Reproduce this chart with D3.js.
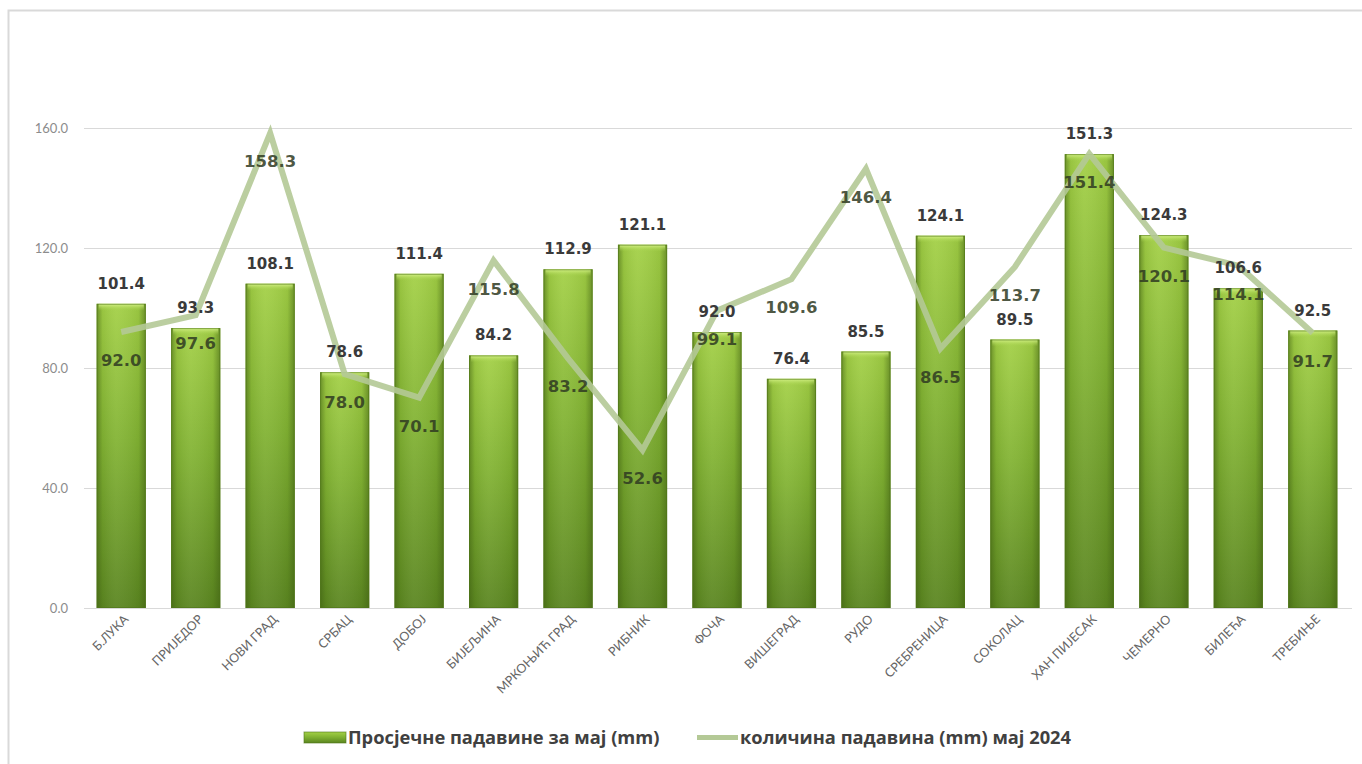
<!DOCTYPE html>
<html>
<head>
<meta charset="utf-8">
<script src="https://cdn.jsdelivr.net/npm/d3@7"></script>
<style>
  html, body { margin: 0; padding: 0; background: #fff; }
  svg { display: block; }
</style>
</head>
<body>
<svg id="chart" width="1362" height="764"></svg>
<script>
const categories = ["Б.ЛУКА", "ПРИЈЕДОР", "НОВИ ГРАД", "СРБАЦ", "ДОБОЈ", "БИЈЕЉИНА", "МРКОЊИЋ ГРАД", "РИБНИК", "ФОЧА", "ВИШЕГРАД", "РУДО", "СРЕБРЕНИЦА", "СОКОЛАЦ", "ХАН ПИЈЕСАК", "ЧЕМЕРНО", "БИЛЕЋА", "ТРЕБИЊЕ"];
const avgMay = [101.4, 93.3, 108.1, 78.6, 111.4, 84.2, 112.9, 121.1, 92.0, 76.4, 85.5, 124.1, 89.5, 151.3, 124.3, 106.6, 92.5];
const may2024 = [92.0, 97.6, 158.3, 78.0, 70.1, 115.8, 83.2, 52.6, 99.1, 109.6, 146.4, 86.5, 113.7, 151.4, 120.1, 114.1, 91.7];
const yTicks = [0, 40, 80, 120, 160];
const seriesNames = ["Просјечне падавине за мај (mm)", "количина падавина (mm) мај 2024"];

const svg = d3.select("#chart");
const defs = svg.append("defs");

// bar gradients
const gv = defs.append("linearGradient").attr("id", "barV").attr("x1", 0).attr("y1", 0).attr("x2", 0).attr("y2", 1);
gv.append("stop").attr("offset", "0%").attr("stop-color", "#a3d046");
gv.append("stop").attr("offset", "45%").attr("stop-color", "#82b333");
gv.append("stop").attr("offset", "100%").attr("stop-color", "#5a8520");
const gh = defs.append("linearGradient").attr("id", "barH").attr("x1", 0).attr("y1", 0).attr("x2", 1).attr("y2", 0);
gh.append("stop").attr("offset", "0%").attr("stop-color", "#3d5c12").attr("stop-opacity", 0.55);
gh.append("stop").attr("offset", "12%").attr("stop-color", "#3d5c12").attr("stop-opacity", 0.1);
gh.append("stop").attr("offset", "40%").attr("stop-color", "#ffffff").attr("stop-opacity", 0.06);
gh.append("stop").attr("offset", "85%").attr("stop-color", "#3d5c12").attr("stop-opacity", 0.1);
gh.append("stop").attr("offset", "100%").attr("stop-color", "#3d5c12").attr("stop-opacity", 0.55);
const gt = defs.append("linearGradient").attr("id", "barTop").attr("x1", 0).attr("y1", 0).attr("x2", 0).attr("y2", 1);
gt.append("stop").attr("offset", "0%").attr("stop-color", "#d6f28a");
gt.append("stop").attr("offset", "100%").attr("stop-color", "#a6d34a").attr("stop-opacity", 0);

// outer border
svg.append("rect").attr("x", 8.5).attr("y", 10.5).attr("width", 1370).attr("height", 770)
  .attr("fill", "none").attr("stroke", "#d9d9d9").attr("stroke-width", 2);

const x = d3.scaleBand().domain(categories).range([84, 1350]).paddingInner(0.34).paddingOuter(0.17);
const y = d3.scaleLinear().domain([0, 160]).range([608, 128]);

// gridlines
svg.append("g").selectAll("line").data(yTicks).join("line")
  .attr("x1", 84).attr("x2", 1352)
  .attr("y1", d => Math.round(y(d)) + 0.5).attr("y2", d => Math.round(y(d)) + 0.5)
  .attr("stroke", "#d9d9d9").attr("stroke-width", 1.2);

// y axis labels
const yAxis = d3.axisLeft(y).tickValues(yTicks).tickFormat(d3.format(".1f")).tickSize(0).tickPadding(0);
const yg = svg.append("g").attr("transform", "translate(68,0)").call(yAxis);
yg.select(".domain").remove();
yg.selectAll("text").attr("font-family", "Lato, 'Open Sans', sans-serif").attr("font-size", 13).attr("fill", "#8c8c8c");

// bars
const bars = svg.append("g");
avgMay.forEach((v, i) => {
  const bx = x(categories[i]), bw = x.bandwidth(), by = y(v), bh = y(0) - y(v);
  bars.append("rect").attr("x", bx).attr("y", by).attr("width", bw).attr("height", bh).attr("fill", "url(#barV)");
  bars.append("rect").attr("x", bx).attr("y", by).attr("width", bw).attr("height", bh).attr("fill", "url(#barH)");
  bars.append("rect").attr("x", bx + 2).attr("y", by).attr("width", bw - 4).attr("height", 7).attr("fill", "url(#barTop)");
  bars.append("rect").attr("x", bx + 0.5).attr("y", by + 0.5).attr("width", bw - 1).attr("height", bh - 1)
    .attr("fill", "none").attr("stroke", "#4f7418").attr("stroke-opacity", 0.6);
});

// x labels
const xl = svg.append("g");
categories.forEach((c, i) => {
  const cx = x(c) + x.bandwidth() / 2 + 8;
  xl.append("text").attr("transform", `translate(${cx},${620}) rotate(-45)`)
    .attr("text-anchor", "end").attr("font-family", "Lato, 'Open Sans', sans-serif").attr("font-size", 12.5)
    .attr("fill", "#666666").text(c);
});

// line
const line = d3.line().x((d, i) => x(categories[i]) + x.bandwidth() / 2).y(d => y(d));
svg.append("path").datum(may2024).attr("d", line).attr("fill", "none")
  .attr("stroke", "#b4c996").attr("stroke-width", 6).attr("stroke-opacity", 0.9)
  .attr("stroke-linejoin", "miter").attr("stroke-miterlimit", 6);

// bar labels
svg.append("g").selectAll("text").data(avgMay).join("text")
  .attr("x", (d, i) => x(categories[i]) + x.bandwidth() / 2)
  .attr("y", d => y(d) - 15)
  .attr("text-anchor", "middle").attr("font-family", "'DejaVu Sans', Verdana, sans-serif")
  .attr("font-weight", "bold").attr("font-size", 15).attr("fill", "#3a3a3a")
  .text(d => d3.format(".1f")(d));

// line labels
svg.append("g").selectAll("text").data(may2024).join("text")
  .attr("x", (d, i) => x(categories[i]) + x.bandwidth() / 2)
  .attr("y", d => y(d) + 34)
  .attr("text-anchor", "middle").attr("font-family", "'DejaVu Sans', Verdana, sans-serif")
  .attr("font-weight", "bold").attr("font-size", 16.5).attr("fill", "#2f3a22").attr("fill-opacity", 0.85)
  .text(d => d3.format(".1f")(d));

// legend
const lg = svg.append("g");
lg.append("rect").attr("x", 304).attr("y", 732).attr("width", 42).attr("height", 11).attr("fill", "url(#barV)")
  .attr("stroke", "#4f7418").attr("stroke-opacity", 0.6);
lg.append("text").attr("x", 348).attr("y", 744).attr("font-family", "'Open Sans', Lato, sans-serif")
  .attr("font-weight", "bold").attr("font-size", 18.3).attr("fill", "#404040").text(seriesNames[0]);
lg.append("line").attr("x1", 697).attr("x2", 738).attr("y1", 737.5).attr("y2", 737.5)
  .attr("stroke", "#b4c996").attr("stroke-width", 5);
lg.append("text").attr("x", 740).attr("y", 744).attr("font-family", "'Open Sans', Lato, sans-serif")
  .attr("font-weight", "bold").attr("font-size", 18.3).attr("fill", "#404040").text(seriesNames[1]);
</script>
</body>
</html>
